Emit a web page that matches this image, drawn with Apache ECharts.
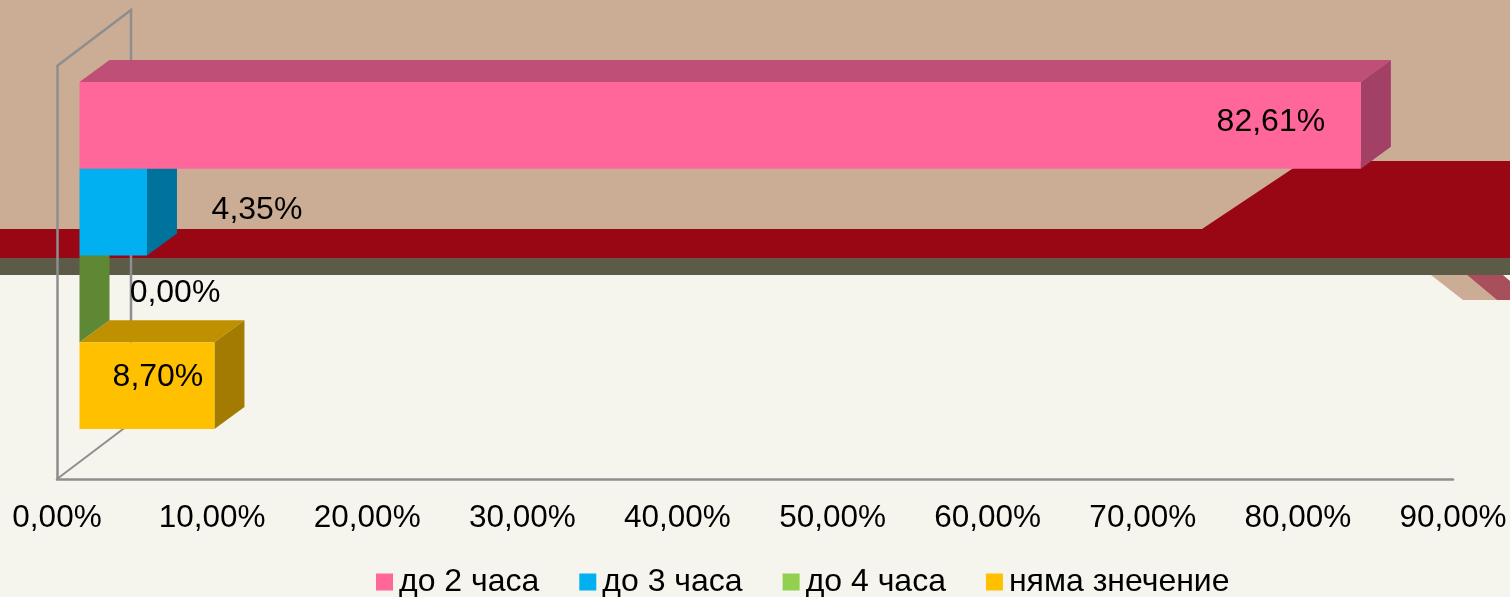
<!DOCTYPE html>
<html><head><meta charset="utf-8">
<style>html,body{margin:0;padding:0;background:#F5F4ED}#c{width:1510px;height:597px}</style>
<script src="https://cdn.jsdelivr.net/npm/echarts@6/dist/echarts.min.js"></script>
</head><body><div id="c"></div>
<script>
const categories = [''];
const seriesNames = ['до 2 часа', 'до 3 часа', 'до 4 часа', 'няма знечение'];
const seriesValues = [82.61, 4.35, 0, 8.70];
const xTicks = { min: 0, max: 90, interval: 10 };

// Styling and layout, kept apart from the data
const front = ['#FF6699', '#00B0F0', '#92D050', '#FFC000'];
const topFace = ['#C04F78', '#0084B4', '#6E9C3C', '#BF9000'];
const sideFace = ['#A34066', '#00739D', '#5F8834', '#A37B00'];
const labelDx = [-90, 110, 95.5, -56.5];
const labelDy = [-3, -2, -6, -8];
const FONT = 'Liberation Sans, Arial, sans-serif';
const FS = 32;
const LINE = '#8E8E8E';
const PLANE = { x: 22.5, y: -17 };   // front plane of the bars relative to the axis box
const DEPTH = { x: 30, y: -22 };     // extrusion of a bar
const BAR_H = 86.75;

const fmt = v => v.toFixed(2).replace('.', ',') + '%';

function makeRender(i) {
  return function (params, api) {
    const base = api.coord([0, 0]);
    const end = api.coord([api.value(0), 0]);
    const x0 = base[0] + PLANE.x, x1 = end[0] + PLANE.x;
    const y0 = base[1] + PLANE.y + (i - 2) * BAR_H, y1 = y0 + BAR_H;
    const dx = DEPTH.x, dy = DEPTH.y;
    const poly = (pts, fill) => ({ type: 'polygon', shape: { points: pts }, style: { fill: fill } });
    return {
      type: 'group',
      children: [
        poly([[x0, y0], [x0 + dx, y0 + dy], [x1 + dx, y0 + dy], [x1, y0]], topFace[i]),
        poly([[x1, y0], [x1 + dx, y0 + dy], [x1 + dx, y1 + dy], [x1, y1]], sideFace[i]),
        { type: 'rect', shape: { x: x0, y: y0, width: x1 - x0, height: BAR_H }, style: { fill: front[i] } },
        { type: 'text', style: {
            x: x1 + labelDx[i], y: (y0 + y1) / 2 + labelDy[i],
            text: fmt(api.value(0)), align: 'center', verticalAlign: 'middle',
            font: FS + 'px ' + FONT, fill: '#000' } }
      ]
    };
  };
}

const order = [3, 2, 1, 0];  // nearer bars overlap the ones below them
const chart = echarts.init(document.getElementById('c'), null, { renderer: 'canvas' });
chart.setOption({
  animation: false,
  backgroundColor: '#F5F4ED',
  grid: { left: 57, right: 57, top: 66, bottom: 118, containLabel: false },
  xAxis: {
    type: 'value', z: 3, min: xTicks.min, max: xTicks.max, interval: xTicks.interval,
    splitLine: { show: false }, axisTick: { show: false },
    axisLine: { show: true, lineStyle: { color: LINE, width: 2.5 } },
    axisLabel: { formatter: fmt, color: '#000', fontSize: 31.5, fontFamily: FONT, margin: 23, hideOverlap: false, showMinLabel: true, showMaxLabel: true }
  },
  yAxis: {
    type: 'category', z: 3, data: categories,
    axisTick: { show: false }, axisLabel: { show: false },
    axisLine: { show: true, lineStyle: { color: LINE, width: 2.5 } }
  },
  legend: {
    left: 376, top: 566, itemWidth: 17, itemHeight: 17, itemGap: 40, padding: 0,
    icon: 'rect',
    textStyle: { color: '#000', fontSize: 32, fontFamily: FONT, padding: [0, 0, 0, 1] },
    data: seriesNames
  },
  graphic: [
    { type: 'rect', silent: true, z: 1, shape: { x: 0, y: 0, width: 1510, height: 275 }, style: { fill: '#CBAD96' } },
    { type: 'polygon', silent: true, z: 1, shape: { points: [[0, 229], [1202, 229], [1304, 161], [1510, 161], [1510, 258], [0, 258]] }, style: { fill: '#990714' } },
    { type: 'rect', silent: true, z: 1, shape: { x: 0, y: 258, width: 1510, height: 17 }, style: { fill: '#5B5B47' } },
    { type: 'polygon', silent: true, z: 1, shape: { points: [[1431, 275], [1467, 275], [1497, 300], [1463, 300]] }, style: { fill: '#CBAD96' } },
    { type: 'polygon', silent: true, z: 1, shape: { points: [[1467, 275], [1503, 275], [1510, 281], [1510, 300], [1497, 300]] }, style: { fill: '#A94F5B' } },
    { type: 'polyline', silent: true, z: 3, shape: { points: [[57, 66], [131, 10], [131, 425]] }, style: { stroke: LINE, lineWidth: 2.5, fill: null } },
    { type: 'line', silent: true, z: 3, shape: { x1: 57, y1: 479, x2: 131, y2: 423 }, style: { stroke: LINE, lineWidth: 2 } }
  ],
  series: seriesNames.map((name, i) => ({
    type: 'custom', name: name, coordinateSystem: 'cartesian2d',
    z: 5 + order.indexOf(i),
    itemStyle: { color: front[i] },
    renderItem: makeRender(i),
    encode: { x: 0, y: 1 },
    data: [[seriesValues[i], 0]]
  }))
});
</script></body></html>
